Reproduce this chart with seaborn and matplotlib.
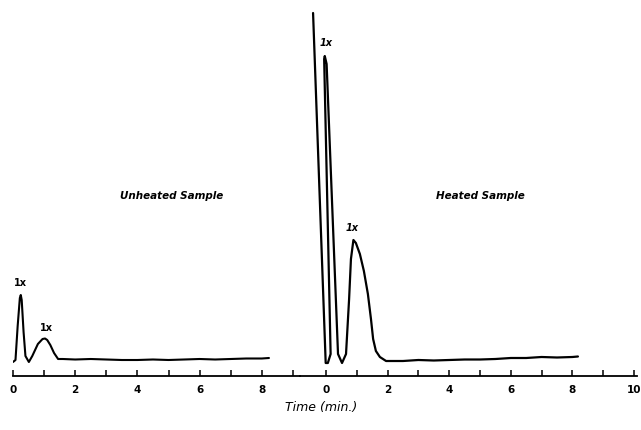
import matplotlib
matplotlib.use("Agg")
import matplotlib.pyplot as plt
import seaborn as sns
import pandas as pd
import numpy as np

# chart-recorder traces: time (min) vs. pen deflection (arbitrary units)
unheated_time = [0.0, 0.08, 0.15, 0.22, 0.25, 0.28, 0.34, 0.40, 0.51, 0.62, 0.80, 0.95, 1.03,
                 1.10, 1.20, 1.32, 1.45,
                 1.6, 2.0, 2.5, 3.0, 3.5, 4.0, 4.5, 5.0, 5.5, 6.0, 6.5, 7.0, 7.5, 8.0, 8.23]
unheated_signal = [14, 16, 50, 78, 81, 76, 44, 20, 14, 20, 32, 37, 37.5,
                   36, 31, 23, 17,
                   17, 16.5, 17, 16.5, 16, 16, 16.5, 16, 16.5, 17, 16.5, 17, 17.5, 17.5, 18]

heated_time = [-0.42, -0.01, 0.06, 0.15, -0.06, -0.04, 0.02, 0.39, 0.52, 0.65, 0.75, 0.81,
               0.89, 0.97, 1.10, 1.23, 1.36, 1.46, 1.53, 1.62, 1.75, 1.95,
               2.5, 3.0, 3.5, 4.0, 4.5, 5.0, 5.5, 6.0, 6.5, 7.0, 7.5, 8.0, 8.18]
heated_signal = [363, 13, 13, 22, 317, 320, 312, 22, 13, 22, 77, 117,
                 136, 133, 122, 105, 82, 57, 37, 25, 19, 15,
                 15, 16, 15.5, 16, 16.5, 16.5, 17, 18, 18, 19, 18.5, 19, 19.5]

left_ticks = list(range(0, 10))
right_ticks = list(range(0, 11))
peak_labels = ["1x", "1x"]

sns.set_style("white")
plt.rcParams["font.family"] = ["DejaVu Sans"]
plt.rcParams.update({"text.color": "black", "xtick.color": "black",
                     "xtick.labelcolor": "black"})

W, H = 641, 431
fig = plt.figure(figsize=(W / 100, H / 100), dpi=100)

y_axis_px = 377
ax_bottom = (H - y_axis_px) / H
ax_height = y_axis_px / H

# left panel: 0 min at px 13, ~31.1 px/min, axis runs to px 300
ax1 = fig.add_axes([13 / W, ax_bottom, (300 - 13) / W, ax_height])
# right panel: 0 min at px 326, ~30.8 px/min, axis from px 300 to 637
ax2 = fig.add_axes([300 / W, ax_bottom, (637 - 300) / W, ax_height])
ax1.set_xlim(0, (300 - 13) / 31.1)
ax2.set_xlim((300 - 326) / 30.8, (637 - 326) / 30.8)

df_u = pd.DataFrame({"time": unheated_time, "signal": unheated_signal})
df_h = pd.DataFrame({"time": heated_time, "signal": heated_signal})

sns.lineplot(data=df_u, x="time", y="signal", sort=False, estimator=None,
             color="black", lw=1.5, ax=ax1)
sns.lineplot(data=df_h, x="time", y="signal", sort=False, estimator=None,
             color="black", lw=1.6, ax=ax2)

for ax, ticks in ((ax1, left_ticks), (ax2, right_ticks)):
    ax.set_ylim(0, y_axis_px)
    ax.patch.set_alpha(0)
    for s in ("top", "left", "right"):
        ax.spines[s].set_visible(False)
    ax.spines["bottom"].set_linewidth(1.3)
    ax.spines["bottom"].set_color("black")
    ax.set_yticks([])
    ax.set_xticks(ticks)
    ax.set_xticklabels([str(t) if t % 2 == 0 else "" for t in ticks],
                       fontsize=7.5, fontweight="bold", color="black")
    ax.tick_params(axis="x", bottom=True, direction="in", length=4, width=1.1,
                   color="black", pad=6)
    ax.set_xlabel("")
    ax.set_ylabel("")

txt = dict(fontsize=7, fontweight="bold", ha="center", va="center", color="black")
ax1.text(0.23, 94, peak_labels[0], **txt)
ax1.text(1.06, 49, peak_labels[1], **txt)
ax2.text(0.0, 334, peak_labels[0], style="italic", **txt)
ax2.text(0.86, 149, peak_labels[1], style="italic", **txt)

ax1.text(5.1, 181, "Unheated Sample", fontsize=7.5, fontweight="bold", style="italic",
         ha="center", va="center", color="black")
ax2.text(5.0, 181, "Heated Sample", fontsize=7.5, fontweight="bold", style="italic",
         ha="center", va="center", color="black")

fig.text(321 / W, (H - 408) / H, "Time (min.)", fontsize=9, style="italic",
         ha="center", va="center", color="black")

fig.savefig("out.png", dpi=100)
